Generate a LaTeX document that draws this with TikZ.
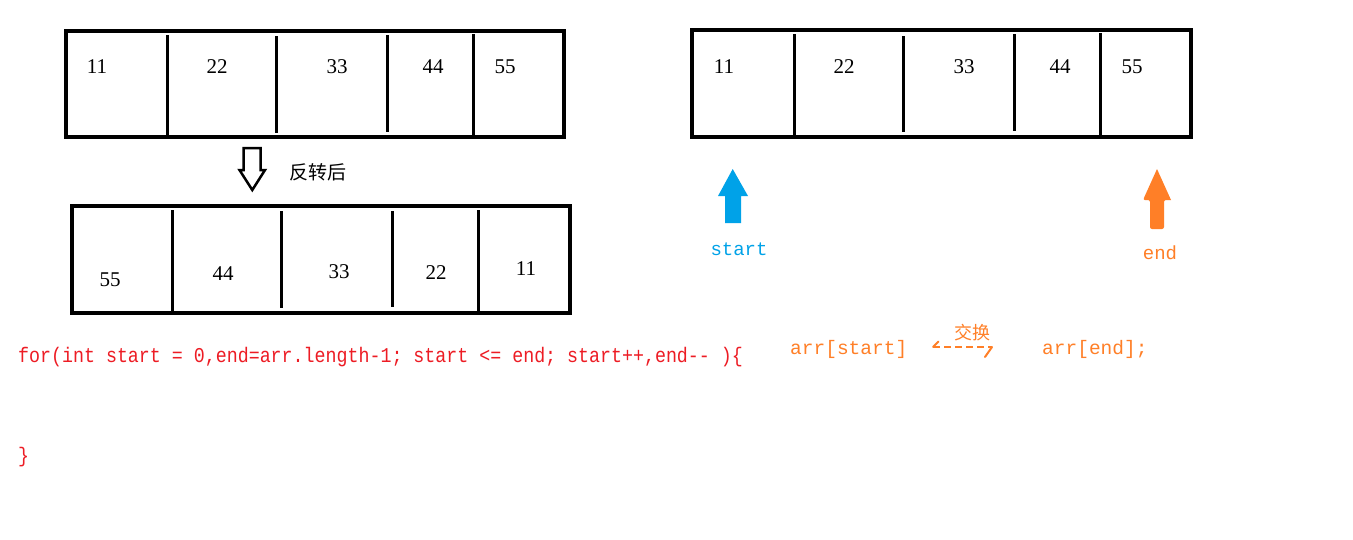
\documentclass[tikz,border=0pt]{standalone}
\usepackage{fontspec}
\usepackage{graphicx}
\setmonofont{Liberation Mono}
\newfontfamily\digitfont{Liberation Serif}
\newfontfamily\cjk{Noto Sans CJK SC}
\definecolor{cred}{HTML}{ED1C24}
\definecolor{corange}{HTML}{FF7F27}
\definecolor{cblue}{HTML}{00A2E8}
\newcommand{\tallcode}[1]{\scalebox{1}[1.15]{#1}}
\begin{document}
\begin{tikzpicture}[x=1pt,y=-1pt,
  frame/.style={line width=3.5pt},
  divider/.style={line width=3pt},
  num/.style={inner sep=0pt,font=\digitfont\fontsize{21}{25}\selectfont},
  code/.style={inner sep=0pt,text=cred,font=\ttfamily\fontsize{18.3}{22}\selectfont},
  ocode/.style={inner sep=0pt,text=corange,font=\ttfamily\fontsize{19.5}{23}\selectfont},
  cjklabel/.style={inner sep=0pt,font=\cjk\fontsize{19}{23}\selectfont}]
\useasboundingbox[fill=white] (0,0) rectangle (1353,539);

% ---- array 1 (top left)
\draw[frame] (66,31) rectangle (564,137);
\draw[divider] (167,35) -- (167,137);
\draw[divider] (276,36) -- (276,133);
\draw[divider] (387,35) -- (387,132);
\draw[divider] (473,34) -- (473,137);
\node[num] (a1) at (97,67) {11};
\node[num] (a2) at (217,67) {22};
\node[num] (a3) at (337,67) {33};
\node[num] (a4) at (433,67) {44};
\node[num] (a5) at (505,67) {55};

% ---- hollow arrow + label
\draw[line width=2.5pt,line join=miter] (243.5,148) -- (260.5,148) -- (260.5,170) -- (265,170)
  -- (252.3,190) -- (239.5,170) -- (243.5,170) -- cycle;
\node[cjklabel] (rev) at (318,172) {反转后};

% ---- array 2 (reversed)
\draw[frame] (72,206) rectangle (570,313);
\draw[divider] (172,210) -- (172,313);
\draw[divider] (281,211) -- (281,308);
\draw[divider] (392,211) -- (392,307);
\draw[divider] (478,210) -- (478,313);
\node[num] (b1) at (110,280) {55};
\node[num] (b2) at (223,274) {44};
\node[num] (b3) at (339,272) {33};
\node[num] (b4) at (436,273) {22};
\node[num] (b5) at (526,269) {11};

% ---- array 3 (top right)
\draw[frame] (692,30) rectangle (1191,137);
\draw[divider] (794,34) -- (794,137);
\draw[divider] (903,36) -- (903,132);
\draw[divider] (1014,34) -- (1014,131);
\draw[divider] (1100,33) -- (1100,137);
\node[num] (c1) at (724,67) {11};
\node[num] (c2) at (844,67) {22};
\node[num] (c3) at (964,67) {33};
\node[num] (c4) at (1060,67) {44};
\node[num] (c5) at (1132,67) {55};

% ---- start / end arrows
\fill[cblue] (725,223) -- (725,196) -- (718,196) -- (732.7,169) -- (748,196) -- (741,196) -- (741,223) -- cycle;
\node[inner sep=0pt,text=cblue,font=\ttfamily\fontsize{19}{23}\selectfont] (st) at (739,249) {start};
\fill[corange,rounded corners=2pt] (1150,229) -- (1150,200) -- (1143,200) [sharp corners]-- (1157,169) -- (1171,200) [rounded corners=2pt]-- (1164,200) -- (1164,229) -- cycle;
\node[inner sep=0pt,text=corange,font=\ttfamily\fontsize{19}{23}\selectfont] (en) at (1160,253) {end};

% ---- code
\node[code,anchor=west] (for) at (18,357) {\tallcode{for(int start = 0,end=arr.length-1; start <= end; start++,end-- )\{}};
\node[code,anchor=west] (close) at (18,457) {\tallcode{\}}};

% ---- swap
\node[ocode,anchor=west] (as) at (790,349) {arr[start]};
\node[ocode,anchor=west] (ae) at (1042,349) {arr[end];};
\coordinate (sl) at (933,347);
\coordinate (sr) at (992,347);
\coordinate (slb) at (938.5,341.5);
\coordinate (srb) at (985,357);
\draw[corange,line width=2pt,dash pattern=on 7pt off 4pt] (sl) -- (sr);
\draw[corange,line width=2pt,line cap=round] (slb) -- (sl);
\draw[corange,line width=2pt,line cap=round] (sr) -- (srb);
\node[inner sep=0pt,text=corange,font=\cjk\fontsize{18}{22}\selectfont] (swap) at (972,333) {交换};
\end{tikzpicture}
\end{document}
